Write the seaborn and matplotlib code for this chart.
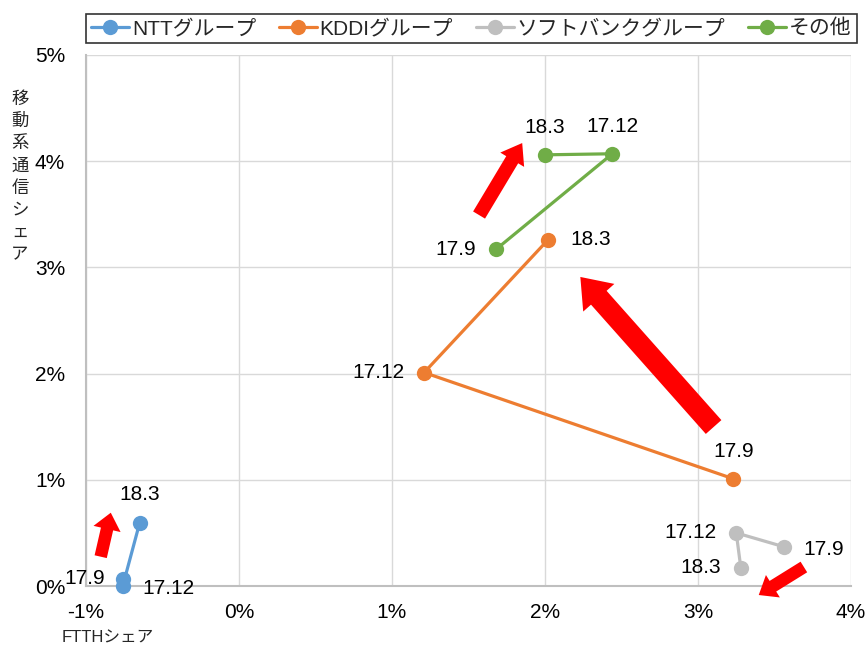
import matplotlib
matplotlib.use("Agg")
import matplotlib.pyplot as plt
import seaborn as sns
import pandas as pd

# ---- data ----
groups = ["NTTグループ", "KDDIグループ", "ソフトバンクグループ", "その他"]
periods = ["17.9", "17.12", "18.3"]
ntt_ftth = [-0.76, -0.76, -0.65]
ntt_mobile = [0.07, 0.00, 0.59]
kddi_ftth = [3.23, 1.21, 2.02]
kddi_mobile = [1.01, 2.01, 3.26]
sb_ftth = [3.56, 3.25, 3.28]
sb_mobile = [0.37, 0.50, 0.17]
other_ftth = [1.68, 2.44, 2.00]
other_mobile = [3.17, 4.07, 4.06]
x_ticks = [-1, 0, 1, 2, 3, 4]
x_tick_labels = ["-1%", "0%", "1%", "2%", "3%", "4%"]
y_ticks = [0, 1, 2, 3, 4, 5]
y_tick_labels = ["0%", "1%", "2%", "3%", "4%", "5%"]
x_label = "FTTHシェア"
y_label = "移動系通信シェア"

series_x = [ntt_ftth, kddi_ftth, sb_ftth, other_ftth]
series_y = [ntt_mobile, kddi_mobile, sb_mobile, other_mobile]
rows = []
for g, xs, ys in zip(groups, series_x, series_y):
    for p, xv, yv in zip(periods, xs, ys):
        rows.append({"group": g, "period": p, "x": xv, "y": yv})
df = pd.DataFrame(rows)

# ---- style ----
colors = ["#5B9BD5", "#ED7D31", "#BFBFBF", "#70AD47"]
sns.set_theme(style="white")
plt.rcParams["font.family"] = ["Liberation Sans", "Noto Sans CJK JP", "DejaVu Sans"]

fig = plt.figure(figsize=(8.67, 6.49), dpi=100)
ax = fig.add_axes([86 / 867, 1 - 586 / 649, (851 - 86) / 867, (586 - 55) / 649])

sns.lineplot(data=df, x="x", y="y", hue="group", hue_order=groups, palette=colors,
             sort=False, estimator=None, marker="o", markersize=11,
             markeredgewidth=0, linewidth=2.3, ax=ax)
for ln in ax.lines:
    ln.set_clip_on(False)
    ln.set_zorder(3)

ax.set_xlim(-1, 4)
ax.set_ylim(0, 5)
ax.set_xticks(x_ticks)
ax.set_xticklabels(x_tick_labels)
ax.set_yticks(y_ticks)
ax.set_yticklabels(y_tick_labels)
ax.set_xlabel("")
ax.set_ylabel("")
ax.tick_params(axis="both", length=0, labelsize=15, colors="#000000")
ax.tick_params(axis="x", pad=12)
ax.tick_params(axis="y", pad=15)
ax.grid(True, color="#D9D9D9", linewidth=1.0)
for s in ["top", "right"]:
    ax.spines[s].set_visible(False)
for s in ["left", "bottom"]:
    ax.spines[s].set_color("#BFBFBF")
    ax.spines[s].set_linewidth(1.5)
    ax.spines[s].set_zorder(1.5)

# ---- point labels (offsets in pixels) ----
label_offsets = {
    "NTTグループ": [(-18, 0, "right"), (20, -3, "left"), (0, 29, "center")],
    "KDDIグループ": [(0, 27, "center"), (-20, 0, "right"), (22, 0, "left")],
    "ソフトバンクグループ": [(20, -3, "left"), (-20, 0, "right"), (-20, 0, "right")],
    "その他": [(-20, 0, "right"), (0, 27, "center"), (0, 27, "center")],
}
for g, xs, ys in zip(groups, series_x, series_y):
    for p, xv, yv, off in zip(periods, xs, ys, label_offsets[g]):
        ax.annotate(p, (xv, yv), xytext=(off[0], off[1]), textcoords="offset pixels",
                    ha=off[2], va="center", fontsize=15, color="#000000",
                    annotation_clip=False, zorder=5)

# ---- red arrows (tail -> head, data coords) ----
arrows = [
    ((-0.904, 0.276), (-0.838, 0.690), 9, 20, 12),
    ((1.569, 3.493), (1.851, 4.171), 10, 20, 14),
    ((3.102, 1.497), (2.231, 2.910), 15, 30, 20),
    ((3.692, 0.179), (3.397, -0.085), 9, 19, 12),
]
for tail, head, tw, hw, hl in arrows:
    ax.annotate("", xy=head, xytext=tail,
                arrowprops=dict(arrowstyle=f"simple,head_length={hl},head_width={hw},tail_width={tw}",
                                color="#FF0000", mutation_scale=1, shrinkA=0, shrinkB=0, lw=0),
                annotation_clip=False, zorder=6)

# ---- legend ----
if ax.get_legend() is not None:
    ax.get_legend().remove()
handles, labels = ax.get_legend_handles_labels()
leg = fig.legend(handles, labels, loc="center", bbox_to_anchor=(471.5 / 867, 1 - 28.5 / 649),
                 ncol=4, frameon=True, fancybox=False, fontsize=15,
                 handlelength=1.8, handletextpad=0.15, columnspacing=1.1,
                 borderpad=0.25, borderaxespad=0)
leg.get_frame().set_edgecolor("#000000")
leg.get_frame().set_linewidth(1.2)

# ---- axis titles ----
fig.text(20 / 867, 1 - 90 / 649, "\n".join(list(y_label)), ha="center", va="top",
         fontsize=12.5, linespacing=1.3, family=["Noto Sans CJK JP", "DejaVu Sans"])
fig.text(108 / 867, 1 - 638 / 649, x_label, ha="center", va="center", fontsize=12)

fig.savefig("out.png", dpi=100)
